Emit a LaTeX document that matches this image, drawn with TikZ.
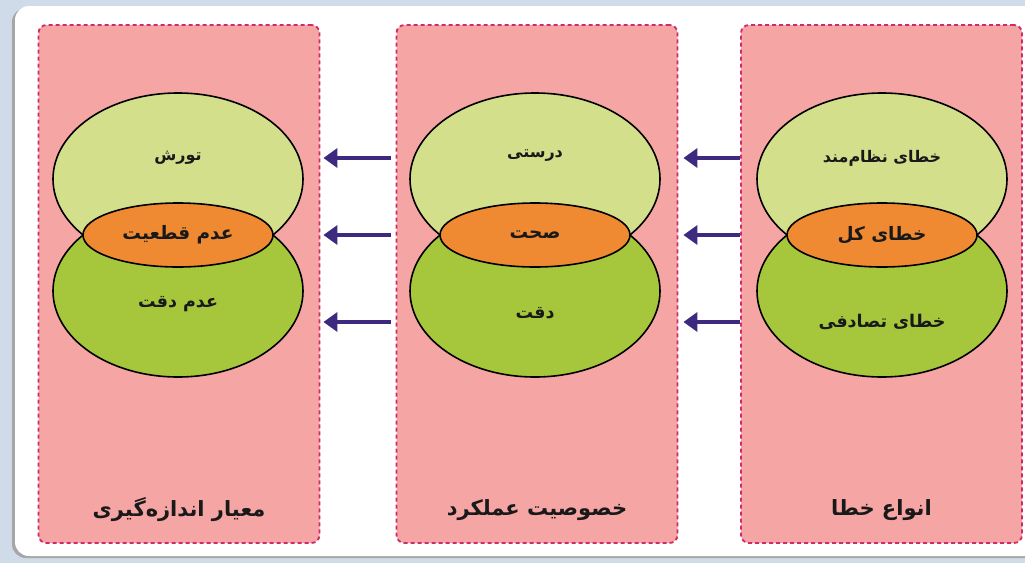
\documentclass[tikz,border=0pt]{standalone}
\usepackage{fontspec}
\newfontfamily\fa[Script=Arabic]{DejaVu Sans}
\TeXXeTstate=1
\usetikzlibrary{arrows.meta,shapes.geometric}

\definecolor{pagebg}{HTML}{CFDBE9}
\definecolor{panelfill}{HTML}{F5A6A4}
\definecolor{paneledge}{HTML}{D02A68}
\definecolor{upperfill}{HTML}{D3DF8A}
\definecolor{lowerfill}{HTML}{A6C73C}
\definecolor{corefill}{HTML}{F08A32}
\definecolor{arrowcol}{HTML}{3D2A80}

\tikzset{
  column/.style={rectangle, fill=panelfill, draw=paneledge, line width=1.8pt,
    dash pattern=on 4pt off 3pt, rounded corners=8pt,
    minimum width=281pt, minimum height=518pt, inner sep=0pt},
  upper/.style={ellipse, fill=upperfill, draw=black, line width=1.6pt,
    minimum width=250pt, minimum height=172pt, inner sep=0pt},
  lower/.style={ellipse, fill=lowerfill, draw=black, line width=1.6pt,
    minimum width=250pt, minimum height=172pt, inner sep=0pt},
  core/.style={ellipse, fill=corefill, draw=black, line width=1.6pt,
    minimum width=190pt, minimum height=64pt, inner sep=0pt},
  ulbl/.style={font=\fa\bfseries\fontsize{16}{18}\selectfont, text=black!90},
  dlbl/.style={font=\fa\bfseries\fontsize{17.5}{20}\selectfont, text=black!90},
  clbl/.style={font=\fa\bfseries\fontsize{18.5}{21}\selectfont, text=black!90},
  title/.style={font=\fa\bfseries\fontsize{21}{24}\selectfont, text=black!90},
  flow/.style={draw=arrowcol, line width=4.5pt,
    -{Triangle[length=14pt,width=19pt]}},
}

\begin{document}
\begin{tikzpicture}[x=1pt,y=-1pt]
  % page and white card
  \fill[pagebg] (0,0) rectangle (1025,563);
  \useasboundingbox (0,0) rectangle (1025,563);
  \fill[black!35, rounded corners=14pt] (12,8) rectangle (1045,558);
  \fill[white, rounded corners=14pt] (15,6) rectangle (1045,556);

  % three columns
  \node[column] (colL) at (179,284) {};
  \node[column] (colM) at (537,284) {};
  \node[column] (colR) at (881.5,284) {};

  % left column: measurement criterion
  \node[upper] (uL) at (178,179) {};
  \node[lower] (dL) at (178,291) {};
  \node[core]  (cL) at (178,235) {};
  \node[ulbl] (tuL) at (178,158) {\beginR تورش\endR};
  \node[clbl] (tcL) at (178,235) {\beginR عدم قطعیت\endR};
  \node[dlbl] (tdL) at (178,304) {\beginR عدم دقت\endR};
  \node[title] (hL) at (179,510) {\beginR معیار اندازه‌گیری\endR};

  % middle column: performance characteristic
  \node[upper] (uM) at (535,179) {};
  \node[lower] (dM) at (535,291) {};
  \node[core]  (cM) at (535,235) {};
  \node[ulbl] (tuM) at (535,156) {\beginR درستی\endR};
  \node[clbl] (tcM) at (535,235) {\beginR صحت\endR};
  \node[dlbl] (tdM) at (535,313) {\beginR دقت\endR};
  \node[title] (hM) at (537,510) {\beginR خصوصیت عملکرد\endR};

  % right column: error types
  \node[upper] (uR) at (882,179) {};
  \node[lower] (dR) at (882,291) {};
  \node[core]  (cR) at (882,235) {};
  \node[ulbl] (tuR) at (882,158) {\beginR خطای نظام‌مند\endR};
  \node[clbl] (tcR) at (882,235) {\beginR خطای کل\endR};
  \node[dlbl] (tdR) at (882,322) {\beginR خطای تصادفی\endR};
  \node[title] (hR) at (881.5,510) {\beginR انواع خطا\endR};

  % arrows: right column -> middle column
  \draw[flow] (colR.west |- 0,158) -- ([xshift=5pt]colM.east |- 0,158);
  \draw[flow] (colR.west |- 0,235) -- ([xshift=5pt]colM.east |- 0,235);
  \draw[flow] (colR.west |- 0,322) -- ([xshift=5pt]colM.east |- 0,322);

  % arrows: middle column -> left column
  \draw[flow] ([xshift=-5pt]colM.west |- 0,158) -- ([xshift=3pt]colL.east |- 0,158);
  \draw[flow] ([xshift=-5pt]colM.west |- 0,235) -- ([xshift=3pt]colL.east |- 0,235);
  \draw[flow] ([xshift=-5pt]colM.west |- 0,322) -- ([xshift=3pt]colL.east |- 0,322);
\end{tikzpicture}
\end{document}
